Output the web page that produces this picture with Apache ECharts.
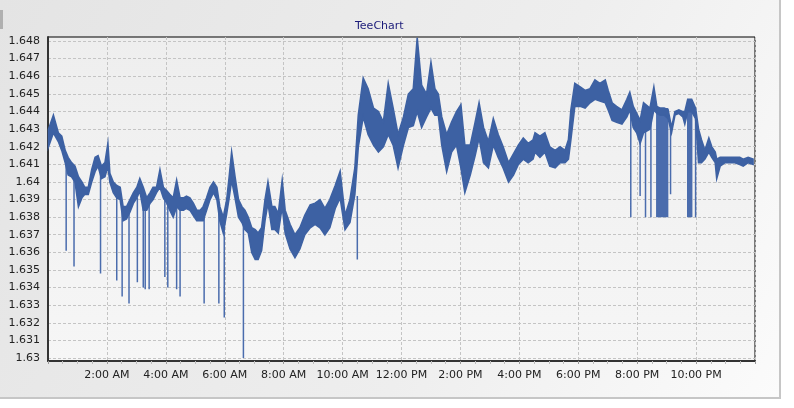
<!DOCTYPE html>
<html>
<head>
<meta charset="utf-8">
<script src="https://cdn.jsdelivr.net/npm/echarts@6/dist/echarts.min.js"></script>
<style>
html,body{margin:0;padding:0;background:#ffffff;}
#chart{width:794px;height:408px;}
</style>
</head>
<body>
<div id="chart"></div>
<script>
// ---- data (time in minutes after midnight, price) ----
const chartTitle = "TeeChart";
const times = [1,11,21,28,35,41,48,55,62,69,75,82,89,96,102,109,116,122,126,133,140,147,153,160,167,174,181,187,194,201,208,214,221,228,235,242,248,255,262,269,276,282,289,296,303,310,316,323,330,337,344,350,357,364,369,374,381,388,395,401,408,415,422,428,435,442,448,456,462,469,477,483,493,503,513,523,534,544,554,564,574,585,595,605,615,625,632,642,652,663,673,683,693,703,713,724,734,744,752,761,771,780,788,795,802,812,822,832,841,849,860,870,878,887,897,907,917,927,938,948,958,968,978,988,992,1002,1012,1022,1033,1043,1053,1060,1065,1073,1084,1094,1104,1114,1124,1135,1141,1149,1158,1169,1179,1185,1192,1199,1206,1213,1226,1234,1240,1247,1255,1263,1270,1277,1285,1293,1297,1303,1311,1319,1325,1331,1338,1346,1352,1359,1362,1369,1379,1389,1399,1409,1416,1426,1436];
const highs = [1.6430,1.6438,1.6428,1.6426,1.6418,1.6414,1.6411,1.6409,1.6403,1.6400,1.6397,1.6397,1.6407,1.6414,1.6415,1.6409,1.6411,1.6422,1.6405,1.6400,1.6398,1.6397,1.6386,1.6386,1.6390,1.6394,1.6397,1.6402,1.6397,1.6391,1.6394,1.6397,1.6397,1.6407,1.6397,1.6395,1.6393,1.6391,1.6401,1.6391,1.6391,1.6392,1.6391,1.6388,1.6384,1.6384,1.6386,1.6391,1.6397,1.6400,1.6397,1.6386,1.6380,1.6390,1.6403,1.6417,1.6403,1.6390,1.6386,1.6384,1.6380,1.6374,1.6373,1.6371,1.6374,1.6390,1.6400,1.6386,1.6386,1.6382,1.6401,1.6384,1.6376,1.6370,1.6374,1.6381,1.6387,1.6388,1.6390,1.6385,1.6390,1.6398,1.6406,1.6381,1.6390,1.6408,1.6438,1.6459,1.6453,1.6442,1.6440,1.6434,1.6456,1.6442,1.6427,1.6437,1.6450,1.6453,1.6482,1.6455,1.6450,1.6468,1.6453,1.6450,1.6437,1.6427,1.6434,1.6440,1.6444,1.6421,1.6421,1.6434,1.6445,1.6431,1.6423,1.6436,1.6427,1.6420,1.6411,1.6416,1.6421,1.6425,1.6422,1.6424,1.6428,1.6426,1.6428,1.6420,1.6418,1.6420,1.6418,1.6424,1.6441,1.6456,1.6454,1.6452,1.6453,1.6458,1.6456,1.6458,1.6452,1.6445,1.6443,1.6441,1.6447,1.6451,1.6443,1.6439,1.6435,1.6445,1.6442,1.6454,1.6443,1.6442,1.6442,1.6441,1.6431,1.6440,1.6441,1.6440,1.6440,1.6447,1.6447,1.6442,1.6430,1.6424,1.6418,1.6425,1.6420,1.6417,1.6413,1.6414,1.6414,1.6414,1.6414,1.6414,1.6413,1.6414,1.6413];
const lows = [1.6420,1.6428,1.6423,1.6418,1.6411,1.6404,1.6403,1.6400,1.6386,1.6391,1.6393,1.6393,1.6400,1.6406,1.6409,1.6402,1.6403,1.6409,1.6400,1.6394,1.6391,1.6390,1.6378,1.6379,1.6383,1.6388,1.6391,1.6395,1.6384,1.6384,1.6388,1.6390,1.6394,1.6397,1.6391,1.6388,1.6384,1.6380,1.6386,1.6384,1.6384,1.6385,1.6384,1.6381,1.6378,1.6378,1.6378,1.6384,1.6390,1.6394,1.6390,1.6378,1.6371,1.6382,1.6391,1.6401,1.6391,1.6380,1.6377,1.6373,1.6371,1.6360,1.6356,1.6356,1.6361,1.6378,1.6388,1.6373,1.6373,1.6371,1.6386,1.6371,1.6362,1.6357,1.6362,1.6370,1.6374,1.6376,1.6374,1.6370,1.6374,1.6385,1.6391,1.6373,1.6377,1.6393,1.6420,1.6437,1.6427,1.6421,1.6417,1.6420,1.6427,1.6421,1.6408,1.6421,1.6431,1.6432,1.6440,1.6431,1.6437,1.6442,1.6438,1.6438,1.6421,1.6406,1.6417,1.6421,1.6408,1.6394,1.6404,1.6415,1.6425,1.6411,1.6408,1.6421,1.6414,1.6408,1.6400,1.6404,1.6410,1.6413,1.6411,1.6413,1.6417,1.6414,1.6417,1.6409,1.6408,1.6411,1.6411,1.6413,1.6424,1.6443,1.6443,1.6442,1.6445,1.6447,1.6446,1.6445,1.6441,1.6435,1.6434,1.6433,1.6437,1.6441,1.6431,1.6428,1.6422,1.6428,1.6430,1.6441,1.6439,1.6438,1.6438,1.6436,1.6428,1.6438,1.6439,1.6437,1.6433,1.6440,1.6440,1.6436,1.6411,1.6411,1.6413,1.6417,1.6414,1.6411,1.6402,1.6409,1.6411,1.6411,1.6411,1.6410,1.6409,1.6411,1.6410];
const spikeTimes = [37,53,107,140,151,165,182,194,198,206,238,244,262,269,318,348,359,398,630,1187,1206,1217,1228,1240,1242,1244,1246,1248,1250,1252,1254,1256,1258,1260,1262,1268,1303,1305,1307,1309,1311,1319];
const spikeTops = [1.6411,1.6403,1.6405,1.6393,1.6385,1.6383,1.6391,1.6390,1.6386,1.6388,1.6392,1.6388,1.6390,1.6386,1.6380,1.6385,1.6375,1.6380,1.6392,1.6440,1.6425,1.6435,1.6440,1.6442,1.6442,1.6442,1.6442,1.6442,1.6442,1.6442,1.6442,1.6442,1.6442,1.6442,1.6442,1.6432,1.6446,1.6446,1.6446,1.6446,1.6446,1.6440];
const spikeLows = [1.6361,1.6352,1.6348,1.6344,1.6335,1.6331,1.6343,1.6340,1.6339,1.6339,1.6346,1.6340,1.6339,1.6335,1.6331,1.6331,1.6323,1.6300,1.6356,1.6380,1.6392,1.6380,1.6380,1.6380,1.6380,1.6380,1.6380,1.6380,1.6380,1.6380,1.6380,1.6380,1.6380,1.6380,1.6380,1.6393,1.6380,1.6380,1.6380,1.6380,1.6380,1.6380];
const xRange = [0, 1440];        // one day in minutes
const xLabelStep = 120;          // label every 2 hours
const yTickRange = [1.630, 1.648];
const yTickStep = 0.001;
const yDataRange = [1.62983, 1.64824];

// ---- build series data ----
const bandData = times.map((t, i) => [t, lows[i], highs[i]]);
const spikeData = [];
for (let i = 0; i < spikeTimes.length; i++) {
  spikeData.push([spikeTimes[i], spikeTops[i]]);
  spikeData.push([spikeTimes[i], spikeLows[i]]);
  spikeData.push([spikeTimes[i], '-']);
}

function timeLabel(v) {
  if (v <= xRange[0] || v >= xRange[1]) return '';
  const h = Math.round(v / 60);
  const suf = h < 12 ? 'AM' : 'PM';
  const hh = (h % 12 === 0) ? 12 : h % 12;
  return hh + ':00 ' + suf;
}

const FONT = '"DejaVu Sans", Verdana, sans-serif';
const lineColor = '#3d61a3';

const chart = echarts.init(document.getElementById('chart'), null, {renderer: 'canvas'});
chart.setOption({
  animation: false,
  backgroundColor: 'transparent',
  title: {
    text: chartTitle,
    left: 350, top: 16,
    textStyle: {fontFamily: FONT, fontSize: 11, fontWeight: 'normal', color: '#1c1c7a'}
  },
  graphic: [
    {type: 'rect', z: -100, shape: {x: 0, y: 0, width: 779, height: 397},
     style: {fill: new echarts.graphic.LinearGradient(0, 0, 1, 1, [
       {offset: 0, color: '#e4e4e4'}, {offset: 0.6, color: '#eeeeee'}, {offset: 1, color: '#fbfbfb'}])}},
    {type: 'rect', z: -99, shape: {x: 779, y: 0, width: 2, height: 399}, style: {fill: '#c6c6c6'}},
    {type: 'rect', z: -99, shape: {x: 0, y: 397, width: 781, height: 2}, style: {fill: '#c6c6c6'}},
    {type: 'rect', z: -98, shape: {x: 0, y: 10, width: 3, height: 19}, style: {fill: '#b0b0b0'}}
  ],
  grid: [
    {left: 48, right: 39, top: 37, bottom: 47, show: true, z: 0,
     backgroundColor: new echarts.graphic.LinearGradient(0, 0, 0, 1, [
       {offset: 0, color: '#eeeeee'}, {offset: 1, color: '#f6f6f6'}]),
     borderColor: '#000000', borderWidth: 1},
    {left: 48, right: 39, top: 41, bottom: 50, show: false}
  ],
  xAxis: [
    {type: 'value', gridIndex: 0, min: xRange[0], max: xRange[1], interval: xLabelStep,
     axisLine: {show: true, onZero: false, lineStyle: {color: '#333333', width: 2}},
     axisTick: {show: true, length: 3, lineStyle: {color: '#999999'}},
     minorTick: {show: true, splitNumber: 4, length: 3, lineStyle: {color: '#bbbbbb'}},
     axisLabel: {formatter: timeLabel, fontFamily: FONT, fontSize: 11, color: '#222222', margin: 9,
                 showMinLabel: false, showMaxLabel: false},
     splitLine: {show: true, lineStyle: {color: '#c4c4c4', type: [3, 2], width: 1}}},
    {type: 'value', gridIndex: 1, min: xRange[0], max: xRange[1], show: false}
  ],
  yAxis: [
    {type: 'value', gridIndex: 0, min: yDataRange[0], max: yDataRange[1],
     axisLine: {show: true, lineStyle: {color: '#333333', width: 2}},
     axisTick: {show: false}, axisLabel: {show: false}, splitLine: {show: false}},
    {type: 'value', gridIndex: 1, min: yTickRange[0], max: yTickRange[1], interval: yTickStep,
     axisLine: {show: false}, axisTick: {show: false},
     axisLabel: {formatter: v => String(parseFloat(v.toFixed(3))), fontFamily: FONT, fontSize: 11,
                 color: '#222222', margin: 8},
     splitLine: {show: true, lineStyle: {color: '#c4c4c4', type: [3, 2], width: 1}}}
  ],
  series: [
    {type: 'custom', xAxisIndex: 0, yAxisIndex: 0, z: 3,
     data: [0],
     renderItem: function (params, api) {
       const pts = [];
       for (let i = 0; i < bandData.length; i++) pts.push(api.coord([bandData[i][0], bandData[i][2]]));
       for (let i = bandData.length - 1; i >= 0; i--) pts.push(api.coord([bandData[i][0], bandData[i][1]]));
       return {type: 'polygon', shape: {points: pts},
               style: {fill: lineColor, stroke: lineColor, lineWidth: 1.6, lineJoin: 'miter'}};
     }},
    {type: 'line', xAxisIndex: 0, yAxisIndex: 0, data: spikeData, showSymbol: false, symbol: 'none',
     connectNulls: false, lineStyle: {color: '#4a6cad', width: 1.5}, z: 2}
  ]
});
</script>
</body>
</html>
